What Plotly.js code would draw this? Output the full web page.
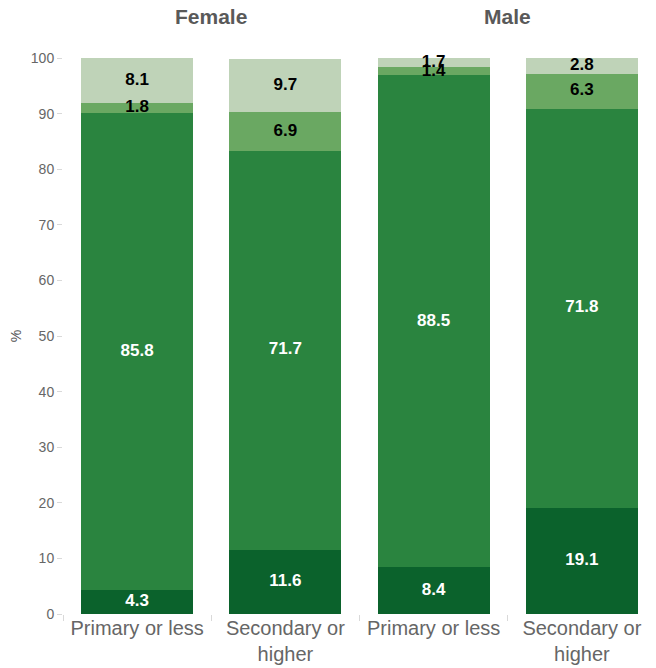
<!DOCTYPE html>
<html>
<head>
<meta charset="utf-8">
<script src="https://cdn.plot.ly/plotly-3.0.1.min.js"></script>
<style>html,body{margin:0;padding:0;background:#fff;}</style>
</head>
<body>
<div id="chart" style="width:656px;height:668px;"></div>
<script>
const categories = ["Primary or less", "Secondary or<br>higher"];
const groups = ["Female", "Male"];
// segments bottom to top
const seg1 = { Female: [4.3, 11.6], Male: [8.4, 19.1] };
const seg2 = { Female: [85.8, 71.7], Male: [88.5, 71.8] };
const seg3 = { Female: [1.8, 6.9], Male: [1.4, 6.3] };
const seg4 = { Female: [8.1, 9.7], Male: [1.7, 2.8] };
const yTicks = [0, 10, 20, 30, 40, 50, 60, 70, 80, 90, 100];

const segs = [
  {vals: seg1, color: '#0b622c', tc: '#ffffff'},
  {vals: seg2, color: '#2a843f', tc: '#ffffff'},
  {vals: seg3, color: '#6aa862', tc: '#000000'},
  {vals: seg4, color: '#bfd3b8', tc: '#000000'}
];

const traces = [];
const labelTraces = [];
groups.forEach((g, gi) => {
  const xa = gi === 0 ? 'x' : 'x2';
  const base = categories.map(() => 0);
  segs.forEach(s => {
    const v = s.vals[g];
    traces.push({
      type: 'bar',
      x: categories,
      y: v,
      xaxis: xa,
      yaxis: 'y',
      marker: {color: s.color, line: {width: 0}},
      hoverinfo: 'none',
      showlegend: false
    });
    const mids = v.map((val, i) => base[i] + val / 2);
    v.forEach((val, i) => { base[i] += val; });
    labelTraces.push({
      type: 'scatter',
      mode: 'text',
      x: categories,
      y: mids,
      xaxis: xa,
      yaxis: 'y',
      text: v.map(val => '<b>' + val.toFixed(1) + '</b>'),
      textposition: 'middle center',
      textfont: {family: 'Liberation Sans, Arial, sans-serif', size: 17, color: s.tc},
      cliponaxis: false,
      hoverinfo: 'none',
      showlegend: false
    });
  });
});

const xaxisBase = {
  type: 'category',
  showgrid: false,
  zeroline: false,
  showline: false,
  ticks: 'outside',
  tickson: 'boundaries',
  ticklen: 6,
  tickcolor: '#d9d9d9',
  tickfont: {family: 'Liberation Sans, Arial, sans-serif', size: 20, color: '#666666'},
  fixedrange: true
};

const layout = {
  width: 656,
  height: 668,
  margin: {l: 63, r: 0, t: 58, b: 54},
  paper_bgcolor: '#ffffff',
  plot_bgcolor: '#ffffff',
  barmode: 'stack',
  bargap: 0.245,
  xaxis: Object.assign({}, xaxisBase, {domain: [0, 0.5], anchor: 'y'}),
  xaxis2: Object.assign({}, xaxisBase, {domain: [0.5, 1], anchor: 'y'}),
  yaxis: {
    range: [0, 100],
    tickvals: yTicks,
    ticktext: yTicks.map(String),
    showgrid: false,
    zeroline: false,
    showline: false,
    ticks: 'outside',
    ticklen: 5,
    tickcolor: '#d9d9d9',
    tickfont: {family: 'Liberation Sans, Arial, sans-serif', size: 14, color: '#666666'},
    title: {text: '%', font: {family: 'Liberation Sans, Arial, sans-serif', size: 14, color: '#555555'}, standoff: 5},
    fixedrange: true
  },
  annotations: groups.map((g, gi) => ({
    text: '<b>' + g + '</b>',
    xref: 'paper', yref: 'paper',
    x: gi === 0 ? 0.25 : 0.75,
    y: 1, yshift: 42,
    xanchor: 'center', yanchor: 'middle',
    showarrow: false,
    font: {family: 'Liberation Sans, Arial, sans-serif', size: 21, color: '#595959'}
  }))
};

Plotly.newPlot('chart', traces.concat(labelTraces), layout, {displayModeBar: false, staticPlot: true});
</script>
</body>
</html>
